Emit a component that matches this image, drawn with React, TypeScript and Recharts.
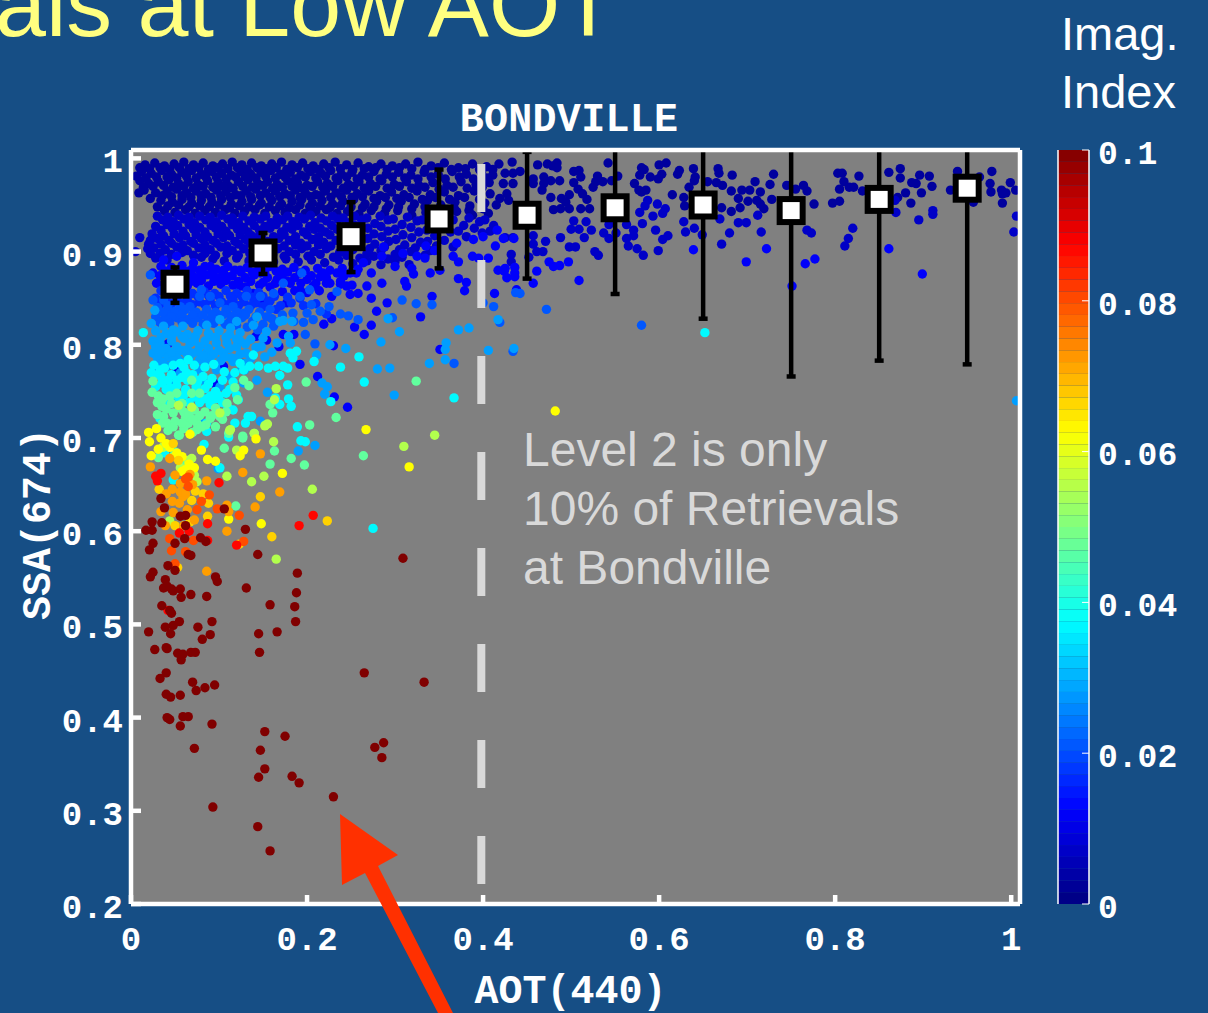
import {
  Bar,
  BarChart,
  CartesianGrid,
  ErrorBar,
  ReferenceLine,
  Scatter,
  ScatterChart,
  XAxis,
  YAxis,
} from "recharts";

// every point is [AOT * 1000, SSA * 1000]
const navy = [
  [433,996],[462,993],[473,994],[479,992],[484,995],[484,990],[503,986],[509,987],[542,995],[580,990],[583,988],[600,993],[608,995],[623,987],[621,983],[639,989],[667,989],[668,984],[683,982],[730,983],[803,984],[808,984],[827,981],[874,989],[874,979],[896,982],[907,981],[861,985],[939,986],[978,986],[999,974],[810,975],[816,969],[821,969],[805,967],[831,965],[887,974],[892,973],[910,970],[976,973],[977,964],[989,966],[994,963],[990,962],[1005,966],[931,966],[898,963],[880,963],[886,952],[871,958],[990,952],[957,953],[964,980],[764,971],[768,965],[745,971],[755,967],[726,972],[715,964],[709,975],[703,966],[694,966],[690,957],[701,954],[711,955],[715,951],[719,946],[728,956],[692,947],[682,943],[671,947],[682,965],[672,971],[665,974],[655,975],[641,980],[640,976],[634,969],[628,958],[629,949],[615,961],[603,983],[599,978],[590,980],[578,982],[572,973],[577,966],[585,966],[580,964],[530,981],[553,981],[546,976],[536,975],[528,975],[525,969],[511,980],[503,974],[508,967],[513,962],[518,956],[498,961],[489,957],[494,953],[488,946],[480,945],[498,946],[511,946],[521,946],[477,958],[467,966],[469,980],[477,976],[487,976],[457,978],[457,973],[442,986],[434,984],[425,984],[423,973],[434,973],[427,962],[419,957],[429,955],[469,973],[776,951],[797,952],[805,954],
  [16,993],[27,995],[38,992],[49,994],[60,996],[71,993],[82,995],[93,992],[104,994],[115,996],[126,993],[137,995],[148,992],[160,994],[171,996],[183,993],[195,995],[207,992],[219,994],[232,996],[245,993],[258,995],[270,991],[284,994],[297,992],[312,994],[326,996],[341,992],[356,995],[372,990],[388,994],[404,991],[418,994],
  [12,986],[23,984],[35,987],[46,983],[58,985],[69,987],[80,983],[92,986],[103,984],[114,982],[125,986],[136,983],[148,985],[159,987],[170,983],[181,985],[193,982],[204,986],[216,984],[227,987],[239,983],[251,985],[263,982],[276,986],[290,983],[304,985],[318,982],[333,985],[349,983],[365,986],[381,983],[398,985],[411,982],
  [10,976],[20,973],[31,975],[43,977],[54,973],[65,975],[76,972],[87,976],[99,974],[110,971],[122,975],[133,977],[144,973],[155,975],[166,972],[178,976],[189,974],[200,971],[212,975],[223,973],[235,976],[247,972],[259,975],[272,973],[285,976],[299,972],[313,975],[327,971],[343,974],[359,971],[375,975],[392,972],[407,974],
  [9,963],[15,966],[28,963],[41,965],[52,967],[63,963],[74,965],[85,962],[97,966],[108,964],[119,961],[131,965],[142,967],[153,963],[164,965],[175,962],[187,966],[198,963],[210,961],[221,965],[233,963],[245,966],[257,962],[270,965],[283,960],[296,964],[310,961],[325,965],[340,961],[356,964],[372,960],[390,965],[408,962],
  [34,955],[47,953],[58,956],[69,952],[80,955],[92,953],[103,956],[114,951],[126,954],[137,956],[148,952],[160,955],[171,951],[183,954],[194,956],[206,952],[217,955],[229,951],[241,954],[253,956],[266,951],[279,954],[293,950],[307,954],[322,951],[337,955],[352,950],[368,953],[385,949],[402,952],[415,950],
  [38,944],[50,942],[62,945],[73,941],[84,944],[96,942],[107,945],[118,941],[129,943],[141,945],[152,941],[164,944],[175,942],[187,945],[198,941],[210,943],[222,945],[234,941],[246,943],[259,940],[273,944],[288,941],[303,944],[319,939],[335,942],[352,939],[370,943],[388,939],[406,941],
  [10,990],[21,989],[33,990],[44,988],[55,990],[66,989],[77,990],[88,988],[99,990],[110,989],[121,990],[132,988],[143,990],[154,989],[165,990],[177,988],[189,990],[201,989],[213,988],[225,990],[238,989],[252,988],[265,989],[278,990],[291,988],[305,990],[319,989],[334,988],[349,990],[364,988],[380,989],[396,988],[411,988],
  [6,981],[17,979],[29,980],[41,980],[52,979],[63,981],[74,979],[85,980],[97,980],[108,978],[119,980],[130,980],[142,979],[153,981],[164,979],[175,980],[187,978],[198,980],[210,979],[221,981],[233,979],[245,980],[257,978],[270,980],[283,978],[297,980],[311,979],[326,978],[341,980],[357,978],[373,980],[389,978],[404,979],
  [14,969],[25,970],[37,971],[48,969],[60,970],[71,968],[82,970],[93,969],[105,970],[116,968],[127,970],[138,969],[150,971],[161,968],[172,969],[183,970],[195,968],[206,970],[218,969],[229,970],[241,968],[253,970],[265,968],[278,970],[291,968],[305,970],[319,968],[334,969],[350,967],[366,969],[382,968],[399,969],
  [22,957],[36,960],[46,959],[58,960],[68,958],[80,960],[91,958],[102,960],[113,958],[125,960],[136,959],[147,960],[158,958],[169,959],[181,960],[192,958],[204,959],[215,960],[227,958],[239,959],[251,958],[263,959],[276,957],[289,958],[302,957],[316,958],[331,956],[346,958],[362,956],[379,958],[396,956],
  [30,948],[42,949],[54,950],[66,948],[78,949],[89,948],[100,950],[112,947],[123,949],[134,948],[146,950],[157,948],[169,949],[180,947],[192,950],[203,948],[215,949],[226,947],[238,949],[250,948],[263,947],[276,948],[290,946],[304,948],[319,946],[334,948],[350,945],[367,947],[384,944],[400,946],
];

const deepBlue = [
  [503,933],[517,932],[500,924],[509,924],[523,923],[488,915],[515,915],[498,905],[505,905],[527,900],[531,896],[543,929],[551,920],[537,920],[543,914],[563,914],[565,906],[575,903],[582,896],[571,923],[571,917],[596,923],[604,913],[610,917],[599,901],[581,930],[578,942],[593,938],[587,955],[598,951],[607,946],[604,941],[563,929],[584,949],[628,932],[640,925],[630,921],[649,918],[680,920],[690,931],[699,931],[716,921],[669,935],[712,939],[820,925],[815,914],[811,906],[768,923],[773,920],[895,934],[911,944],[911,940],[869,942],[868,955],[1006,938],[1003,921],[671,908],[457,917],[457,908],[468,900],[471,911],[434,915],[425,915],[432,897],[452,894],[432,889],[461,900],
  [36,934],[48,932],[60,935],[72,931],[85,934],[97,932],[110,935],[122,931],[134,933],[147,935],[159,931],[172,934],[184,932],[197,935],[209,931],[222,933],[235,935],[248,931],[262,934],[277,930],[292,934],[308,929],[325,933],[342,929],[360,933],[378,928],[396,932],[412,928],
  [10,915],[22,912],[19,903],[5,900],
  [34,923],[47,925],[59,922],[71,924],[84,921],[96,925],[108,922],[121,924],[133,921],[146,923],[158,925],[171,921],[183,924],[196,921],[208,924],[221,921],[234,924],[247,920],[261,923],[276,919],[292,922],[309,918],[327,921],[345,917],[363,921],[381,916],[399,920],
  [30,914],[43,912],[55,915],[68,911],[80,914],[93,912],[105,915],[118,911],[130,913],[143,915],[155,911],[168,914],[180,912],[193,909],[206,913],[219,910],[233,912],[247,909],[262,912],[277,908],[293,911],[311,907],[329,910],[347,906],[366,905],
  [26,904],[39,902],[52,905],[64,901],[77,904],[90,902],[102,905],[115,901],[128,903],[141,905],[154,901],[167,903],[180,900],[194,903],[208,900],[222,903],[237,899],[252,902],[268,898],[284,901],[300,897],[318,900],[334,896],
  [28,893],[41,891],[80,894],[93,892],[106,890],[120,893],[134,890],[148,892],[162,889],[176,892],[190,889],[205,891],[220,888],[236,891],[252,887],[268,890],[284,886],[300,889],[316,886],
  [30,938],[42,937],[54,939],[66,937],[78,938],[90,937],[103,939],[115,936],[127,938],[140,937],[153,938],[166,936],[178,938],[191,937],[204,939],[216,936],[229,938],[241,936],[254,938],[268,936],[283,938],[298,935],[314,937],[331,934],[348,936],[366,934],[384,936],[402,934],
  [28,927],[41,929],[53,928],[66,929],[78,926],[91,928],[103,927],[115,929],[128,926],[140,928],[152,927],[165,929],[177,926],[190,928],[203,927],[215,925],[228,928],[241,926],[254,928],[269,925],[284,927],[300,924],[318,926],[336,923],[354,925],[372,922],[390,925],[408,922],
  [24,919],[37,917],[49,919],[62,917],[74,918],[87,916],[99,919],[112,917],[124,918],[137,917],[149,919],[162,916],[174,918],[187,916],[200,918],[213,916],[226,918],[240,915],[254,917],[269,914],[285,916],[301,913],[319,915],[337,911],[356,912],
  [20,908],[34,908],[46,909],[59,907],[71,909],[84,907],[97,909],[109,906],[122,908],[135,909],[148,906],[161,908],[174,906],[187,907],[200,906],[213,907],[227,906],[241,904],[256,906],[271,903],[288,905],[305,902],[323,904],[340,901],
  [22,898],[33,898],[46,897],[58,899],[71,896],[84,898],[96,896],[109,898],[122,896],[135,898],[148,896],[161,897],[174,895],[187,897],[201,895],[215,897],[230,894],[245,896],[260,893],[276,895],[292,892],[308,894],
];

const pureBlue = [
  [639,902],[722,903],[699,889],[777,892],[766,887],[751,863],[861,903],[899,876],[475,889],[480,884],[487,885],[497,889],[461,879],[457,866],[509,869],[436,873],[427,872],[424,879],[436,883],
  [192,779],[212,766],[231,744],[246,733],[254,819],[265,811],[219,822],[228,828],[230,799],[185,811],[173,811],[142,809],[154,805],[168,798],[42,801],[32,775],[52,773],[94,759],[105,777],[126,780],[329,830],[342,852],[413,855],[351,795],[273,821],[279,836],[291,845],[273,850],[258,855],[249,854],[238,865],[251,864],[268,863],[285,866],[311,868],[313,863],[321,876],[319,882],[300,884],[309,898],[325,895],[335,906],[334,893],[345,901],[351,880],[340,877],[372,871],[381,867],[379,858],[366,895],[372,889],[388,895],[395,893],[406,893],[370,909],[438,859],[417,880],[425,882],[436,877],[414,906],[423,914],[435,914],[389,913],[400,916],[416,923],[256,877],[264,888],[245,863],[222,866],[207,863],[192,859],[177,845],[150,848],[139,855],[124,863],[109,873],[94,873],[78,873],[63,877],[52,873],[29,866],[25,877],[37,891],[52,895],[71,888],[90,884],[105,877],[124,880],[147,877],[166,870],[181,866],[200,870],[215,873],[234,877],[249,877],[273,877],[285,895],[287,905],
  [34,884],[46,883],[58,885],[70,882],[84,884],[97,881],[110,884],[118,880],[132,883],[145,881],[158,884],[172,881],[185,883],[198,880],[212,882],[226,880],[240,882],[258,881],
  [33,874],[45,875],[60,872],[70,874],[86,875],[100,872],[115,874],[130,872],[140,875],[155,872],[172,875],[186,872],[205,874],[222,872],[242,874],
  [36,864],[50,865],[64,863],[75,866],[88,863],[102,865],[116,864],[130,862],[146,864],[158,862],[172,857],[186,858],[200,856],[214,858],[228,852],
  [40,869],[55,869],[68,868],[80,869],[94,868],[108,869],[122,868],[136,868],[150,867],[164,866],[178,868],[193,866],[210,866],[226,866],[40,879],[52,879],[65,879],[78,880],[92,878],[105,880],[125,878],[138,878],[152,878],[165,879],[178,878],[192,877],[218,877],[238,868],
];

const royal = [
  [34,858],[46,856],[58,859],[70,855],[83,857],[95,855],[108,858],[120,855],[132,858],[145,856],[158,847],[28,850],[40,848],[52,850],[64,848],[78,846],[90,848],[103,846],[116,848],[128,846],[142,845],[156,846],[170,842],[182,845],[196,842],[210,844],[222,833],
  [40,853],[52,853],[64,852],[76,852],[88,853],[100,852],[113,852],[126,852],[138,851],[150,852],[163,852],[178,851],[192,850],[34,844],[46,844],[58,844],[70,843],[84,843],[96,842],[110,843],[122,842],[136,842],[150,841],[165,838],
];

const azure = [
  [437,856],[442,855],[472,838],[419,824],[434,793],[580,821],
  [196,824],[207,827],[198,811],[209,801],[258,827],[238,833],[247,831],[225,841],[234,857],[215,836],[205,843],[308,848],[324,844],[342,843],[297,829],[400,845],[412,841],[367,780],
  [44,834],[56,841],[67,841],[78,852],[90,852],[101,845],[116,841],[131,852],[147,852],[162,855],[173,866],[194,877],[203,859],[192,852],[25,848],[37,848],[22,875],[44,859],[80,859],[109,834],[128,834],[158,838],[184,834],[200,834],
  [30,840],[42,842],[50,836],[62,838],[74,835],[86,838],[96,835],[108,838],[120,835],[134,838],[146,835],[160,828],[172,832],[185,825],[28,830],[38,828],[52,829],[64,827],[76,829],[88,826],[100,829],[113,826],[126,829],[138,825],[150,822],[162,820],
  [36,835],[46,830],[58,833],[70,832],[82,832],[92,832],[104,832],[116,831],[130,832],[142,830],[154,830],[168,825],[33,824],[44,823],[58,824],[70,823],[82,822],[94,823],[107,822],[120,821],[132,819],[144,816],
];

const skyBlue = [
  [1006,740],
  [155,749],[220,747],[299,746],[294,775],[280,774],[339,780],[357,784],[357,795],[358,802],[372,816],[384,818],[417,827],[292,828],[305,814],[406,794],[435,796],[284,803],[244,796],[226,800],[211,789],[217,759],[223,755],[143,762],[152,787],[129,773],[116,782],[105,791],[86,791],[109,802],[120,798],[131,791],[97,802],[78,798],[63,791],[52,791],[35,791],[25,804],[33,802],[23,823],[27,837],[37,820],[48,816],[59,820],[73,809],[86,821],[101,827],[113,818],[124,813],[139,821],[154,814],[169,825],[179,809],[150,807],[166,802],[181,802],[67,802],[46,804],[58,809],[90,809],[120,825],[143,830],[173,826],[183,825],[25,791],[31,782],[41,777],[56,770],[78,773],[97,773],[113,766],[128,759],[101,755],[82,762],[46,762],
  [190,686],[209,692],[99,667],[80,716],[147,718],
  [28,815],[40,812],[52,814],[64,811],[76,815],[88,812],[100,815],[112,811],[124,804],[136,806],[148,798],[160,792],[28,798],[40,796],[52,798],[64,795],[76,793],[88,796],[100,794],[112,796],[124,790],[136,785],[30,786],[42,787],[54,784],[66,786],[78,784],[90,786],[102,783],[114,786],[126,774],
  [34,808],[46,809],[60,807],[72,804],[84,804],[96,808],[108,808],[120,806],[130,801],[142,797],[34,793],[46,792],[58,794],[70,791],[82,788],[94,790],[107,787],[118,785],[130,780],[36,781],[48,783],[60,781],[72,779],[84,780],[96,778],
];

const aqua = [
  [652,813],[14,813],
  [63,770],[75,759],[33,721],[56,780],[65,784],[44,754],[35,759],[23,770],[33,773],[97,743],[90,745],[122,741],[133,723],[137,723],[86,716],[118,716],[130,716],[164,743],[169,736],[179,742],[182,734],[178,757],[169,767],[156,775],[164,777],[173,777],[178,775],[145,777],[135,777],[128,773],[227,739],[238,776],[208,782],[265,760],[259,787],[367,743],[188,793],[181,791],[184,786],[139,789],[124,780],
  [189,712],[198,696],[48,655],[83,693],[275,603],[193,697],[50,685],[86,707],[101,668],[111,701],[38,684],
  [26,778],[38,775],[48,778],[60,776],[72,778],[84,776],[94,779],[106,771],[118,770],[34,766],[46,768],[58,765],[70,768],[82,766],[92,764],[104,762],[116,760],[28,755],[40,752],[52,756],[62,752],[74,755],[84,753],[96,750],[108,748],[120,746],[42,740],[55,742],[66,738],[78,738],[90,736],[104,738],[116,730],
  [30,768],[42,762],[52,762],[64,762],[76,762],[88,758],[100,745],[112,752],[48,746],[60,746],[72,744],[84,742],[96,742],[110,733],
];

const green = [
  [25,761],[24,749],[31,745],[35,734],[44,745],[52,748],[58,737],[69,762],[69,748],[78,748],[37,723],[41,716],[65,716],[75,716],[54,703],[90,721],[101,723],[118,754],[128,762],[134,756],[109,737],[121,741],[158,736],[161,727],[153,714],[127,702],[140,705],[111,705],[199,760],[233,722],[324,761],
  [203,714],[127,700],[163,686],[158,672],[182,678],[197,671],[264,681],[119,627],[31,679],[106,689],[59,671],[55,703],[75,709],[65,716],
  [30,738],[40,731],[48,727],[60,728],[72,730],[84,728],[96,732],[108,728],[30,725],[50,718],[62,722],[85,714],[96,712],[42,708],[60,710],[70,706],[80,712],
  [36,742],[46,737],[56,732],[66,726],[78,724],[92,724],[104,720],[36,716],[48,712],[58,716],[70,720],
];

const lime = [
  [165,753],[69,733],[54,735],[101,727],[113,709],[163,741],
  [345,703],[310,691],[155,715],[152,713],[112,708],[162,696],[109,659],[137,653],[151,659],[206,645],[165,570],[44,611],[140,705],[120,687],[75,653],[69,678],[65,676],
  [36,690],[48,680],[56,668],[64,664],[72,660],
];

const yellow = [
  [482,729],
  [267,709],[316,669],[20,706],[21,696],[23,681],[31,688],[80,687],[87,677],[96,675],[128,687],[124,681],[172,662],[148,608],[111,613],[142,699],[67,704],[29,710],[62,666],
  [34,700],[40,694],[44,690],[52,684],[58,680],[66,672],[72,668],[58,664],
];

const amber = [
  [223,611],[160,594],[147,637],[88,630],[69,633],[82,640],[73,643],[32,645],[50,606],[48,694],[123,586],[87,616],[67,610],[53,561],[54,676],
];

const orange = [
  [147,683],[127,663],[169,642],[22,669],[47,645],[47,632],[59,637],[34,621],[39,606],[109,600],[86,557],[141,626],[44,678],[56,651],[67,661],[86,654],[111,621],[109,628],[64,623],
  [50,660],[56,642],[70,650],[62,640],[55,630],[40,640],[48,620],[72,612],[60,606],
];

const orangeRed = [
  [65,658],[62,656],[71,590],[44,592],[128,589],[50,565],[75,623],[98,624],[123,617],[80,632],[62,578],[46,579],[89,639],[65,648],
];

const red = [
  [34,662],[28,659],[30,654],[100,652],[87,608],[55,598],[66,600],[87,590],[191,606],[207,617],[120,585],[42,515],
];

const maroon = [
  [17,601],[24,601],[24,610],[35,609],[25,587],[21,580],[34,635],[38,625],[62,617],[56,616],[62,606],[61,592],[50,587],[79,593],[85,589],[130,602],[106,624],[65,575],[68,574],[42,563],[50,558],[144,575],[309,571],[25,556],[22,551],[39,548],[37,539],[41,541],[46,538],[48,536],[56,538],[68,532],[57,529],[86,530],[96,551],[98,546],[131,539],[189,555],[188,534],[158,521],[186,519],[187,503],[35,520],[46,512],[44,515],[55,503],[39,497],[48,499],[45,490],[20,492],[76,497],[92,503],[90,489],[81,484],[145,490],[166,492],[146,470],[27,473],[40,475],[41,474],[53,469],[59,468],[57,462],[68,470],[73,470],[265,448],[333,438],[40,448],[33,442],[70,438],[74,429],[84,432],[95,435],[40,425],[45,422],[56,424],[41,400],[44,398],[59,401],[65,401],
  [56,391],[92,393],[72,367],[152,385],[175,380],[147,365],[152,345],[145,336],[183,337],[191,330],[230,315],[277,368],[287,373],[285,357],[93,304],[144,283],[158,257],
];

// imaginary index drawn for each list, lowest first so that order is the drawing order
const seriesLists = [
  { name: "navy", index: 0.003, points: navy },
  { name: "deepBlue", index: 0.007, points: deepBlue },
  { name: "pureBlue", index: 0.012, points: pureBlue },
  { name: "royal", index: 0.017, points: royal },
  { name: "azure", index: 0.021, points: azure },
  { name: "skyBlue", index: 0.028, points: skyBlue },
  { name: "aqua", index: 0.037, points: aqua },
  { name: "green", index: 0.047, points: green },
  { name: "lime", index: 0.055, points: lime },
  { name: "yellow", index: 0.0625, points: yellow },
  { name: "amber", index: 0.067, points: amber },
  { name: "orange", index: 0.072, points: orange },
  { name: "orangeRed", index: 0.08, points: orangeRed },
  { name: "red", index: 0.087, points: red },
  { name: "maroon", index: 0.1, points: maroon },
];

// binned means; a high of 1.009 runs on to the top of the frame with no cap showing
const binAot = [0.05, 0.15, 0.25, 0.35, 0.45, 0.55, 0.65, 0.75, 0.85, 0.95];
const binSsa = [0.865, 0.8985, 0.916, 0.935, 0.939, 0.947, 0.95, 0.944, 0.956, 0.968];
const binLow = [0.845, 0.876, 0.878, 0.882, 0.871, 0.8545, 0.828, 0.766, 0.783, 0.779];
const binHigh = [0.883, 0.92, 0.953, 0.988, 1.007, 1.009, 1.009, 1.009, 1.009, 1.009];

const xTicks = [0, 0.2, 0.4, 0.6, 0.8, 1];
const yTicks = [0.2, 0.3, 0.4, 0.5, 0.6, 0.7, 0.8, 0.9, 1];
const colorTicks = [0, 0.02, 0.04, 0.06, 0.08, 0.1];
const colorSteps = 64;

const BG = "#164E85";
const MONO = "'Liberation Mono', monospace";
const SANS = "'Liberation Sans', Arial, sans-serif";

const jet = (t: number) => {
  const part = (v: number) => Math.round(255 * Math.max(0, Math.min(1, v)));
  const hex = (v: number) => part(v).toString(16).padStart(2, "0");
  const r = Math.min(4 * t - 1.5, 4.5 - 4 * t);
  const g = Math.min(4 * t - 0.5, 3.5 - 4 * t);
  const b = Math.min(4 * t + 0.5, 2.5 - 4 * t);
  return `#${hex(r)}${hex(g)}${hex(b)}`;
};

const toXY = (list: number[][]) => list.map(([x, y]) => ({ x: x / 1000, y: y / 1000 }));

const binData = binAot.map((x, i) => {
  const open = binHigh[i] >= 1.009;
  const up = binHigh[i] - binSsa[i];
  return {
    x,
    y: binSsa[i],
    errLow: [binSsa[i] - binLow[i], 0],
    errCapped: [0, open ? 0 : up],
    errOpen: [0, open ? up : 0],
  };
});

const colorRow = [
  Object.fromEntries(
    Array.from({ length: colorSteps }, (_, i) => [`c${i}`, 0.1 / colorSteps]),
  ),
];

const tickFont = { fontFamily: MONO, fontWeight: 700, fontSize: 34, fill: "#fff" };
const labelFont = { fontFamily: MONO, fontWeight: 700, fontSize: 40, fill: "#fff" };
const frame = { stroke: "#fff", strokeWidth: 4.5 };

const Dot = ({ cx, cy, fill }: { cx?: number; cy?: number; fill?: string }) => (
  <circle cx={cx} cy={cy} r={4.7} fill={fill} />
);

const BinSquare = ({ cx, cy }: { cx?: number; cy?: number }) => (
  <rect
    x={(cx ?? 0) - 11.5}
    y={(cy ?? 0) - 11.5}
    width={23}
    height={23}
    fill="#fff"
    stroke="#000"
    strokeWidth={6}
  />
);

const ScatterPanel = () => (
  <ScatterChart
    width={1208}
    height={1013}
    margin={{ top: 149, right: 187, bottom: 108, left: 130 }}
  >
    <CartesianGrid horizontal={false} vertical={false} fill="#808080" />
    <XAxis
      dataKey="x"
      type="number"
      domain={[0, 1.01]}
      ticks={xTicks}
      height={1}
      axisLine={frame}
      tickLine={frame}
      tickSize={-9}
      tickMargin={31}
      tick={tickFont}
      label={{ value: "AOT(440)", position: "bottom", offset: 70, dx: -5, ...labelFont }}
    />
    <XAxis
      xAxisId="top"
      orientation="top"
      type="number"
      domain={[0, 1.01]}
      ticks={xTicks}
      height={1}
      axisLine={frame}
      tickLine={frame}
      tickSize={-9}
      tick={false}
    />
    <YAxis
      dataKey="y"
      type="number"
      domain={[0.2, 1.009]}
      ticks={yTicks}
      width={1}
      axisLine={frame}
      tickLine={frame}
      tickSize={-10}
      tickMargin={18}
      tick={{ ...tickFont, dy: 2 }}
      label={{ value: "SSA(674)", position: "left", angle: -90, offset: 94, dy: -99, ...labelFont }}
    />
    <YAxis
      yAxisId="right"
      orientation="right"
      type="number"
      domain={[0.2, 1.009]}
      ticks={yTicks}
      width={1}
      axisLine={frame}
      tickLine={frame}
      tickSize={-10}
      tick={false}
    />
    {seriesLists.map((s) => (
      <Scatter
        key={s.name}
        name={s.name}
        data={toXY(s.points)}
        fill={jet(s.index / 0.1)}
        shape={<Dot />}
        zIndex={300}
        isAnimationActive={false}
      />
    ))}
    <ReferenceLine
      x={0.398}
      stroke="#D9D9D9"
      strokeWidth={8}
      strokeDasharray="48 48"
      strokeDashoffset={76}
    />
    <Scatter name="bins" data={binData} shape={<BinSquare />} isAnimationActive={false}>
      <ErrorBar dataKey="errLow" direction="y" width={4.5} strokeWidth={4.5} stroke="#000" isAnimationActive={false} />
      <ErrorBar dataKey="errCapped" direction="y" width={4.5} strokeWidth={4.5} stroke="#000" isAnimationActive={false} />
      <ErrorBar dataKey="errOpen" direction="y" width={0} strokeWidth={4.5} stroke="#000" isAnimationActive={false} />
    </Scatter>
  </ScatterChart>
);

const ColorBar = () => (
  <BarChart
    width={168}
    height={1013}
    data={colorRow}
    barCategoryGap={0}
    margin={{ top: 150, right: 118, bottom: 109, left: 17 }}
  >
    <XAxis hide />
    <YAxis
      orientation="right"
      type="number"
      domain={[0, 0.1]}
      ticks={colorTicks}
      width={1}
      axisLine={{ stroke: "#fff", strokeWidth: 1.5 }}
      tickLine={{ stroke: "#fff", strokeWidth: 1 }}
      tickSize={-7}
      tickMargin={16}
      tick={{ ...tickFont, fontSize: 33, dy: 2 }}
    />
    <YAxis
      yAxisId="left"
      type="number"
      domain={[0, 0.1]}
      width={1}
      axisLine={{ stroke: "#fff", strokeWidth: 1.5 }}
      tickLine={false}
      tick={false}
    />
    {Array.from({ length: colorSteps }, (_, i) => (
      <Bar
        key={i}
        dataKey={`c${i}`}
        stackId="scale"
        fill={jet((i + 0.5) / colorSteps)}
        isAnimationActive={false}
      />
    ))}
  </BarChart>
);

const Annotations = () => (
  <svg
    width={1208}
    height={1013}
    style={{ position: "absolute", left: 0, top: 0, pointerEvents: "none" }}
  >
    <text x={-5} y={36} fontFamily={SANS} fontSize={91.6} fill="#FFFF80">
      als at Low AOT
    </text>
    <text x={1061} y={50} fontFamily={SANS} fontSize={47} fill="#fff">
      Imag.
    </text>
    <text x={1061} y={108} fontFamily={SANS} fontSize={47} fill="#fff">
      Index
    </text>
    <text x={569} y={131} textAnchor="middle" fontFamily={MONO} fontWeight={700} fontSize={40} letterSpacing={0.3} fill="#fff">
      BONDVILLE
    </text>
    <text fontFamily={SANS} fontSize={48} fill="#D9D9D9">
      <tspan x={523} y={466}>Level 2 is only</tspan>
      <tspan x={523} y={525}>10% of Retrievals</tspan>
      <tspan x={523} y={584}>at Bondville</tspan>
    </text>
    <polygon
      points="340,814 398,855 378,866 453,1013 438,1013 365,873 342,885"
      fill="#FF3000"
    />
  </svg>
);

export default function App() {
  return (
    <div
      style={{
        position: "absolute",
        left: 0,
        top: 0,
        width: 1208,
        height: 1013,
        overflow: "hidden",
        background: BG,
      }}
    >
      <ScatterPanel />
      <div style={{ position: "absolute", left: 1040, top: 0 }}>
        <ColorBar />
      </div>
      <Annotations />
    </div>
  );
}
